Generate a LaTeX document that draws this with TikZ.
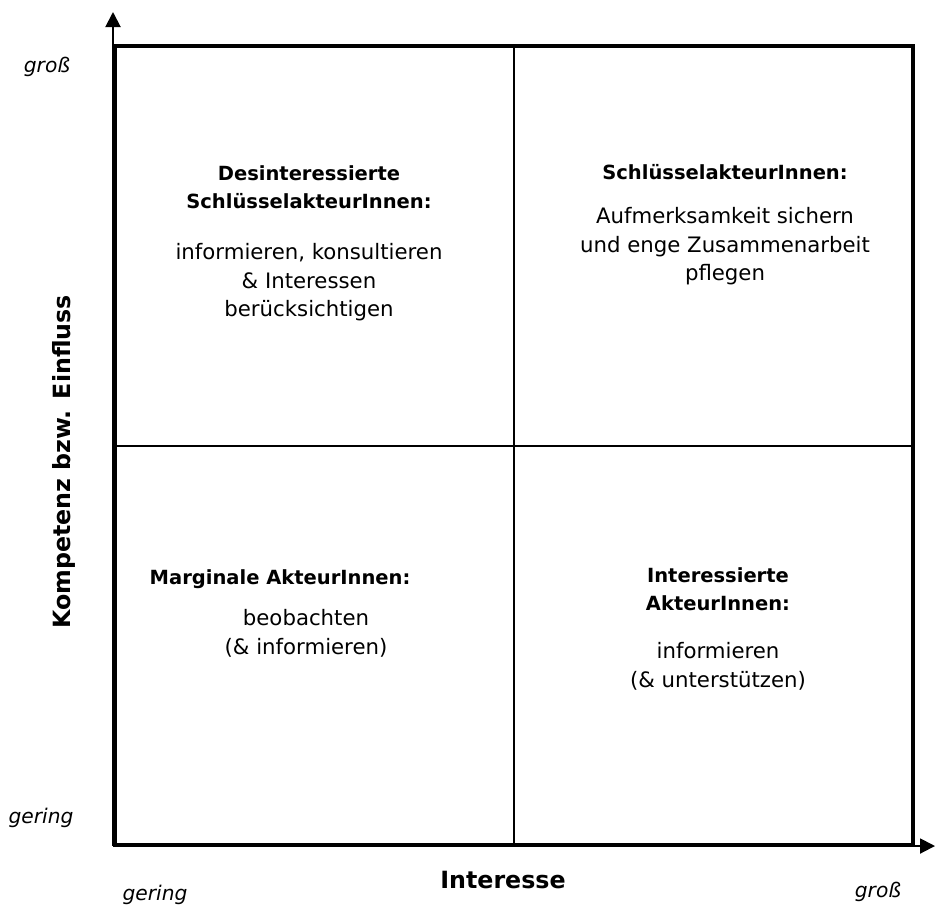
\documentclass[tikz,border=0pt]{standalone}
\usepackage{fontspec}
\setmainfont{DejaVu Sans}
\usetikzlibrary{arrows.meta, positioning}
\tikzset{
  frm/.style={line width=2.8pt},
  mid/.style={line width=0.9pt},
  ax/.style={line width=1.1pt, -{Triangle[length=0.3cm, width=0.3cm]}},
  % Überschrift im Quadranten
  head/.style={font=\fontsize{11.1}{16.2}\selectfont\bfseries, align=center, inner sep=0pt},
  % Handlungsempfehlung
  body/.style={font=\fontsize{12.1}{16.2}\selectfont, align=center, inner sep=0pt},
  axl/.style={font=\fontsize{13.5}{16}\selectfont\bfseries},
  lvl/.style={font=\fontsize{11.5}{14}\selectfont\itshape}
}

\begin{document}
\begin{tikzpicture}[x=0.02cm, y=-0.02cm]
  \useasboundingbox (0,0) rectangle (935,907);

  % --- Achsen ---
  \coordinate (o) at (113,846);
  \coordinate (yt) at (113,12);
  \coordinate (xt) at (935,846);
  \draw[ax] (o) -- (yt);
  \draw[ax] (o) -- (xt);

  % --- Rahmen und Quadranten ---
  \coordinate (ll) at (115,845);
  \coordinate (ur) at (913,46);
  \coordinate (m) at (514,446);
  \draw[mid] (m |- ur) -- (m |- ll);
  \draw[mid] (m -| ll) -- (m -| ur);
  \draw[frm] (ll) rectangle (ur);

  % --- Quadranten-Texte ---
  \node[head] (tlh) at (309,187) {Desinteressierte\\SchlüsselakteurInnen:};
  \node[body, below=0.68cm of tlh] (tlb) {informieren, konsultieren\\\& Interessen\\berücksichtigen};

  \node[head] (trh) at (725,172) {SchlüsselakteurInnen:};
  \node[body, below=0.54cm of trh] (trb) {Aufmerksamkeit sichern\\und enge Zusammenarbeit\\pflegen};

  \node[head] (blh) at (280,579) {Marginale AkteurInnen:};
  \node[body, below=0.41cm of blh, xshift=0.52cm] (blb) {beobachten\\(\& informieren)};

  \node[head] (brh) at (718,589) {Interessierte\\AkteurInnen:};
  \node[body, below=0.62cm of brh] (brb) {informieren\\(\& unterstützen)};

  % --- Achsenbeschriftung ---
  \node[axl] (xl) at (503,880) {Interesse};
  \node[axl, rotate=90] (yl) at (64,462) {Kompetenz bzw. Einfluss};
  \node[lvl] (ymax) at (47,67) {groß};
  \node[lvl] (ymin) at (41,818) {gering};
  \node[lvl] (xmin) at (155,895) {gering};
  \node[lvl] (xmax) at (878,892) {groß};
\end{tikzpicture}
\end{document}
